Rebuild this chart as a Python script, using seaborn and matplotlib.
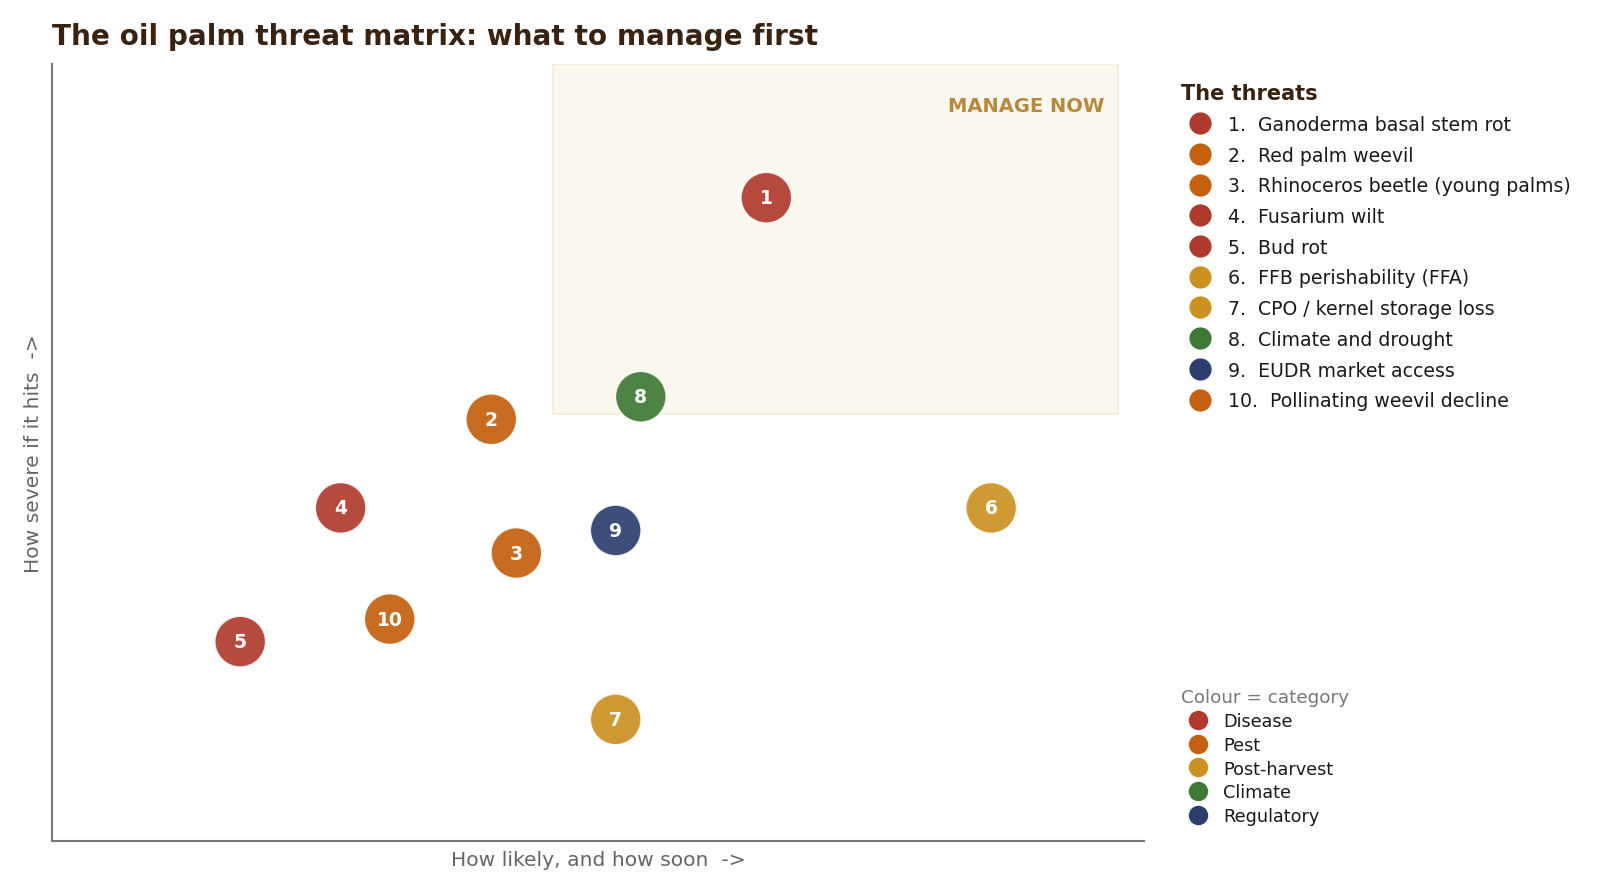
import matplotlib
matplotlib.use("Agg")
import matplotlib.pyplot as plt
from matplotlib.lines import Line2D
from matplotlib.patches import Rectangle
import seaborn as sns
import pandas as pd

# ---- data ----
ids = [1, 2, 3, 4, 5, 6, 7, 8, 9, 10]
names = ["Ganoderma basal stem rot", "Red palm weevil", "Rhinoceros beetle (young palms)",
         "Fusarium wilt", "Bud rot", "FFB perishability (FFA)", "CPO / kernel storage loss",
         "Climate and drought", "EUDR market access", "Pollinating weevil decline"]
categories = ["Disease", "Pest", "Pest", "Disease", "Disease", "Post-harvest",
              "Post-harvest", "Climate", "Regulatory", "Pest"]
likelihood = [65.4, 40.2, 42.5, 26.4, 17.2, 86.0, 51.6, 53.9, 51.6, 30.9]
severity = [82.8, 54.3, 37.1, 42.9, 25.7, 42.9, 15.7, 57.2, 40.0, 28.6]
category_order = ["Disease", "Pest", "Post-harvest", "Climate", "Regulatory"]
category_colors = ["#B03A2E", "#C4600F", "#CB9221", "#3E7A35", "#2B3F6E"]
manage_zone_x = [45.9, 97.6]
manage_zone_y = [55.0, 100.0]

palette = dict(zip(category_order, category_colors))
df = pd.DataFrame({"id": ids, "name": names, "category": categories,
                   "x": likelihood, "y": severity})

sns.set_theme(style="white")
plt.rcParams["font.family"] = ["DejaVu Sans"]

fig = plt.figure(figsize=(16, 8.95), dpi=100)
ax = fig.add_axes([0.0328, 0.0587, 0.6822, 0.8687])

ax.add_patch(Rectangle((manage_zone_x[0], manage_zone_y[0]),
                       manage_zone_x[1] - manage_zone_x[0],
                       manage_zone_y[1] - manage_zone_y[0],
                       facecolor="#FAF7EE", edgecolor="#F4EBD6", linewidth=1.2, zorder=0))
ax.text(96.4, 94.7, "MANAGE NOW", ha="right", va="center", fontsize=14,
        fontweight="bold", color="#B8893A")

sns.scatterplot(data=df, x="x", y="y", hue="category", palette=palette,
                hue_order=category_order, s=1370, alpha=0.92, edgecolor="white",
                linewidth=1.5, legend=False, ax=ax, zorder=3)
for _, r in df.iterrows():
    ax.text(r["x"], r["y"], str(r["id"]), ha="center", va="center", color="white",
            fontsize=13.5, fontweight="bold", zorder=4)

ax.set_xlim(0, 100)
ax.set_ylim(0, 100)
ax.set_xticks([])
ax.set_yticks([])
for s in ["top", "right"]:
    ax.spines[s].set_visible(False)
for s in ["left", "bottom"]:
    ax.spines[s].set_color("#777777")
    ax.spines[s].set_linewidth(1.5)
ax.set_xlabel("How likely, and how soon  ->", fontsize=14.6, color="#666666", labelpad=6)
ax.set_ylabel("How severe if it hits  ->", fontsize=14.6, color="#666666", labelpad=7)

fig.text(0.0325, 0.959, "The oil palm threat matrix: what to manage first",
         fontsize=20.1, fontweight="bold", color="#3A2210", ha="left", va="center")

# legend 1: threats
h1 = [Line2D([], [], marker="o", linestyle="", markersize=16,
             markerfacecolor=palette[c], markeredgecolor="none") for c in categories]
l1 = [f"{i}.  {n}" for i, n in zip(ids, names)]
leg1 = fig.legend(h1, l1, loc="upper left", bbox_to_anchor=(0.738, 0.906),
                  frameon=False, fontsize=13.6, title="The threats",
                  title_fontproperties={"size": 15, "weight": "bold"},
                  alignment="left", handlelength=2.0, handletextpad=0.5,
                  labelspacing=0.62, borderpad=0, borderaxespad=0)
leg1.get_title().set_color("#3A2210")
for t in leg1.get_texts():
    t.set_color("#1a1a1a")

# legend 2: categories
h2 = [Line2D([], [], marker="o", linestyle="", markersize=14,
             markerfacecolor=c, markeredgecolor="none") for c in category_colors]
leg2 = fig.legend(h2, category_order, loc="upper left", bbox_to_anchor=(0.738, 0.23),
                  frameon=False, fontsize=12.7, title="Colour = category",
                  title_fontproperties={"size": 13.2}, alignment="left",
                  handlelength=1.9, handletextpad=0.5, labelspacing=0.33,
                  borderpad=0, borderaxespad=0)
leg2.get_title().set_color("#777777")
for t in leg2.get_texts():
    t.set_color("#1a1a1a")

fig.savefig("out.png", dpi=100)
